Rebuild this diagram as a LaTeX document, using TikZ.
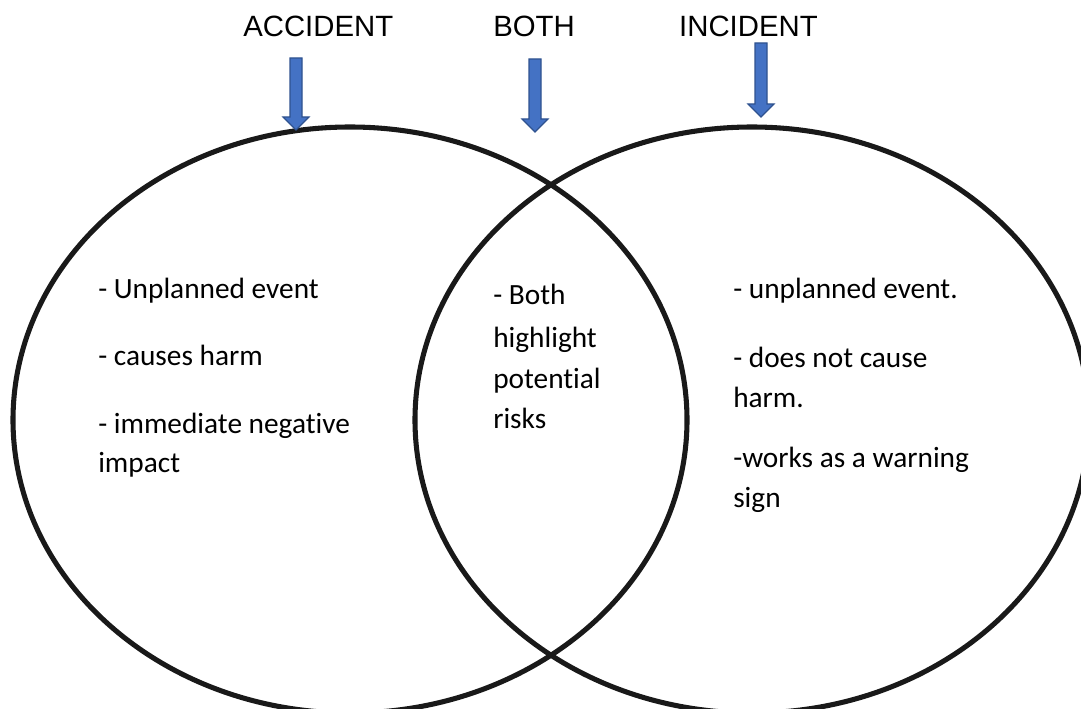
\documentclass[tikz,border=0pt]{standalone}
\usepackage{fontspec}
\setmainfont{Carlito}[Ligatures=NoCommon]
\newfontfamily\headfont{Liberation Sans}
\usetikzlibrary{positioning}
\definecolor{arrowfill}{HTML}{4472C4}
\definecolor{arrowedge}{HTML}{2F528F}

\begin{document}
\begin{tikzpicture}[x=0.75pt, y=-0.75pt,
    ring/.style={line width=3.8pt, draw=black!90},
    heading/.style={font=\headfont\fontsize{22}{26}\selectfont, inner sep=0pt, anchor=base west},
    item/.style={font=\fontsize{22}{26}\selectfont, inner sep=0pt, anchor=base west},
    pointer/.style={fill=arrowfill, draw=arrowedge, line width=0.9pt, line join=miter}]
    \clip (0,0) rectangle (1081,709);

    % Circles
    \draw[ring] (350,420) ellipse [x radius=337, y radius=293];
    \draw[ring] (752,420) ellipse [x radius=337, y radius=293];

    % Headings
    \node[heading] (accident) at (243,37) {ACCIDENT};
    \node[heading] (both) at (493,37) {BOTH};
    \node[heading, anchor=base east] (incident) at (818,37) {INCIDENT};

    % Block arrows
    \foreach \ax/\ay/\az in {296/58/130, 535/59/132, 761/43/117}
        \filldraw[pointer] (\ax-6,\ay) -- (\ax+6,\ay) -- (\ax+6,\az-13) -- (\ax+13,\az-13)
            -- (\ax,\az) -- (\ax-13,\az-13) -- (\ax-6,\az-13) -- cycle;

    % Accident
    \node[item] (acc1) at (98,298) {- Unplanned event};
    \node[item] (acc2) at (98,365) {- causes harm};
    \node[item] (acc3) at (98,433) {- immediate negative};
    \node[item] (acc4) at (98,472) {impact};

    % Both
    \node[item] (com1) at (493,305) {- Both};
    \node[item] (com2) at (493,347) {highlight};
    \node[item] (com3) at (493,388) {potential};
    \node[item] (com4) at (493,428) {risks};

    % Incident
    \node[item] (inc1) at (733,298) {- unplanned event.};
    \node[item] (inc2) at (733,367) {- does not cause};
    \node[item] (inc3) at (733,407) {harm.};
    \node[item] (inc4) at (733,467) {-works as a warning};
    \node[item] (inc5) at (733,507) {sign};
\end{tikzpicture}
\end{document}
